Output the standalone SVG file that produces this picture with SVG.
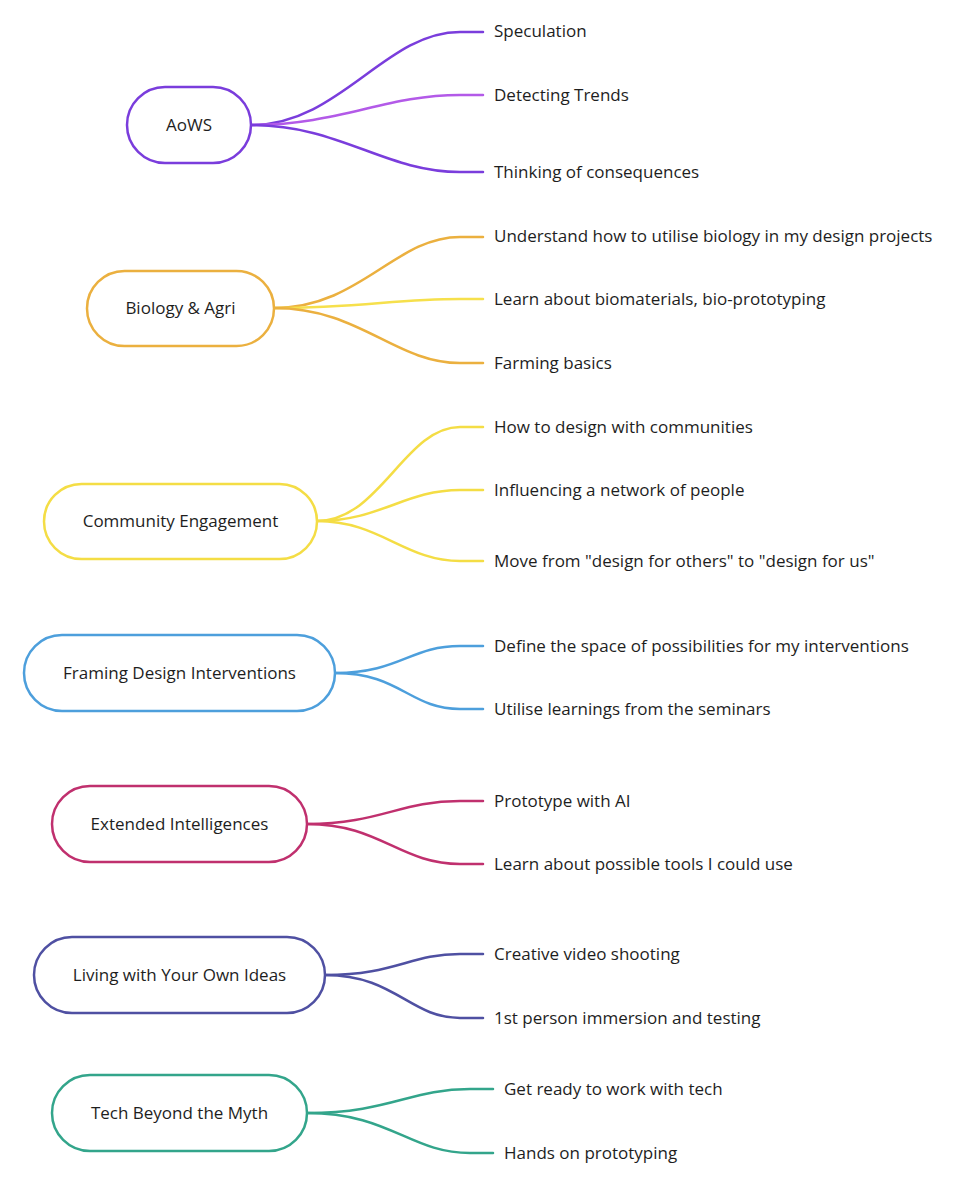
<svg xmlns="http://www.w3.org/2000/svg" width="960" height="1203" viewBox="0 0 960 1203">
<style>
text{font-family:"Open Sans","Noto Sans","Liberation Sans",sans-serif;font-size:17px;fill:#1e1e1e;dominant-baseline:central}
.n text{text-anchor:middle}
.n rect{fill:#fff;stroke-width:2.5}
#links path{fill:none;stroke-width:2.5;stroke-linecap:round}
</style>
<rect width="960" height="1203" fill="#fff"/>
<g id="links">
<path d="M251 125 C340 125 385 32 460 32 L483 32" stroke="#7a3ddc"/>
<path d="M251 125 C340 125 385 95 460 95 L483 95" stroke="#b35ae8"/>
<path d="M251 125 C340 125 385 172 460 172 L483 172" stroke="#7a3ddc"/>
<path d="M274 308 C360 308 395 237 460 237 L483 237" stroke="#ebb03f"/>
<path d="M274 308 C360 308 395 299 460 299 L483 299" stroke="#f6e04c"/>
<path d="M274 308 C360 308 395 363 460 363 L483 363" stroke="#ebb03f"/>
<path d="M317 521 C380 521 405 427 460 427 L483 427" stroke="#f4dd45"/>
<path d="M317 521 C380 521 405 490 460 490 L483 490" stroke="#f4dd45"/>
<path d="M317 521 C380 521 405 561 460 561 L483 561" stroke="#f4dd45"/>
<path d="M335 673 C400 673 410 646 460 646 L483 646" stroke="#4d9fdc"/>
<path d="M335 673 C400 673 410 709 460 709 L483 709" stroke="#4d9fdc"/>
<path d="M307 824 C380 824 400 801 460 801 L483 801" stroke="#c0306e"/>
<path d="M307 824 C380 824 400 864 460 864 L483 864" stroke="#c0306e"/>
<path d="M325 975 C395 975 410 954 460 954 L483 954" stroke="#4f50a2"/>
<path d="M325 975 C395 975 410 1018 460 1018 L483 1018" stroke="#4f50a2"/>
<path d="M307 1113 C390 1113 410 1089 470 1089 L493 1089" stroke="#33a58b"/>
<path d="M307 1113 C390 1113 410 1153 470 1153 L493 1153" stroke="#33a58b"/>
</g>
<g id="n-aows" class="n"><rect x="127" y="87" width="124" height="76" rx="38" stroke="#7a3ddc"/><text x="189" y="124.5">AoWS</text></g>
<g id="n-bio" class="n"><rect x="87" y="271" width="187" height="75" rx="37.5" stroke="#ebb03f"/><text x="180.5" y="307.5">Biology &amp; Agri</text></g>
<g id="n-comm" class="n"><rect x="44" y="484" width="273" height="75" rx="37.5" stroke="#f4dd45"/><text x="180.5" y="520.5">Community Engagement</text></g>
<g id="n-fram" class="n"><rect x="24" y="635" width="311" height="76" rx="38" stroke="#4d9fdc"/><text x="179.5" y="672.5">Framing Design Interventions</text></g>
<g id="n-ext" class="n"><rect x="52" y="786" width="255" height="76" rx="38" stroke="#c0306e"/><text x="179.5" y="823.5">Extended Intelligences</text></g>
<g id="n-liv" class="n"><rect x="34" y="937" width="291" height="76" rx="38" stroke="#4f50a2"/><text x="179.5" y="974.5">Living with Your Own Ideas</text></g>
<g id="n-tech" class="n"><rect x="52" y="1075" width="255" height="76" rx="38" stroke="#33a58b"/><text x="179.5" y="1112.5">Tech Beyond the Myth</text></g>
<g id="leaves">
<text x="494" y="30.5">Speculation</text>
<text x="494" y="94.5">Detecting Trends</text>
<text x="494" y="171.5">Thinking of consequences</text>
<text x="494" y="235.5">Understand how to utilise biology in my design projects</text>
<text x="494" y="298.5">Learn about biomaterials, bio-prototyping</text>
<text x="494" y="362.5">Farming basics</text>
<text x="494" y="426.5">How to design with communities</text>
<text x="494" y="489.5">Influencing a network of people</text>
<text x="494" y="560.5">Move from "design for others" to "design for us"</text>
<text x="494" y="645.5">Define the space of possibilities for my interventions</text>
<text x="494" y="708.5">Utilise learnings from the seminars</text>
<text x="494" y="800.5">Prototype with AI</text>
<text x="494" y="863.5">Learn about possible tools I could use</text>
<text x="494" y="953.5">Creative video shooting</text>
<text x="494" y="1017.5">1st person immersion and testing</text>
<text x="504" y="1088.5">Get ready to work with tech</text>
<text x="504" y="1152.5">Hands on prototyping</text>
</g>
</svg>
